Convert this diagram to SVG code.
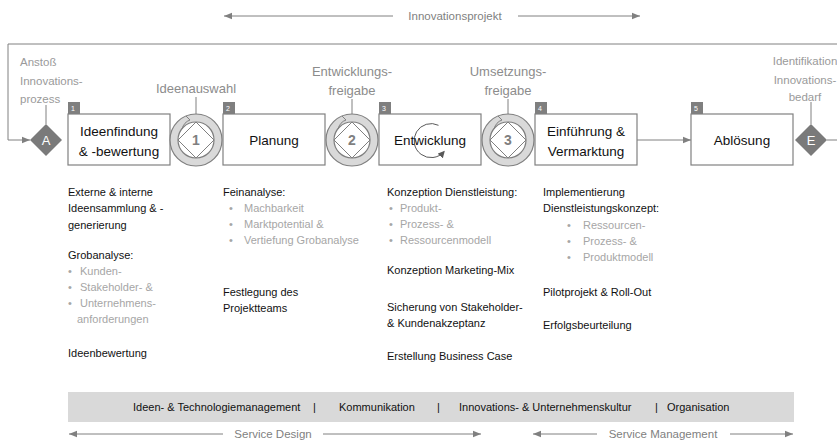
<svg xmlns="http://www.w3.org/2000/svg" width="837" height="440" viewBox="0 0 837 440">
<defs>
<marker id="ah" viewBox="0 0 10 10" refX="10" refY="5" markerWidth="8" markerHeight="8" markerUnits="userSpaceOnUse" orient="auto-start-reverse"><path d="M0,1 L10,5 L0,9 Z" fill="#808080"/></marker>
<marker id="ah2" viewBox="0 0 10 10" refX="8" refY="5" markerWidth="7" markerHeight="7" markerUnits="userSpaceOnUse" orient="auto"><path d="M0,0 L10,5 L0,10 Z" fill="#595959"/></marker>
<style>
text{font-family:"Liberation Sans",Arial,sans-serif}
.box{fill:#fff;stroke:#808080;stroke-width:1.2}
.tab{fill:#7f7f7f}
.tabt{fill:#fff;font-size:7px}
.bt{fill:#111;font-size:13.5px;text-anchor:middle}
.gl{fill:#8c8c8c;font-size:13px;text-anchor:middle}
.sl{fill:#9a9a9a;font-size:11.5px}
.ln{stroke:#808080;stroke-width:1;fill:none}
.ring{fill:#d9d9d9;stroke:#7f7f7f;stroke-width:1.2;fill-rule:evenodd}
.dia{fill:#fff;stroke:#7f7f7f;stroke-width:1}
.gn{fill:#7f7f7f;font-size:14px;font-weight:bold;text-anchor:middle}
.dd{fill:#7a7a7a}
.dl{fill:#fff;font-size:13px;text-anchor:middle}
.body{fill:#111;font-size:11px}
.bul{fill:#a6a6a6;font-size:11px}
.ar{fill:#7f7f7f;font-size:11.5px;text-anchor:middle}
.band{fill:#111;font-size:11px}
</style>
</defs>

<!-- top arrow -->
<g id="innovationsprojekt">
<line class="ln" x1="393" y1="16" x2="224" y2="16" marker-end="url(#ah)"/>
<line class="ln" x1="518" y1="16" x2="640" y2="16" marker-end="url(#ah)"/>
<text class="ar" x="455" y="20" font-size="12">Innovationsprojekt</text>
</g>

<g id="connectors">
<path class="ln" d="M837,44 L8,44 L8,140 L30,140" stroke="#9a9a9a" stroke-width="1.4" marker-end="url(#ah)"/>
<line class="ln" x1="637" y1="140" x2="691" y2="140" marker-end="url(#ah)"/>
<line class="ln" x1="827" y1="140" x2="837" y2="140"/>
<line class="ln" x1="46" y1="105" x2="46" y2="124"/>
<line class="ln" x1="811" y1="102" x2="811" y2="124"/>
<line class="ln" x1="196" y1="97" x2="196" y2="122"/>
<line class="ln" x1="352" y1="99" x2="352" y2="122"/>
<line class="ln" x1="508" y1="99" x2="508" y2="122"/>
</g>

<!-- start diamond A -->
<g id="start-A">
<text class="sl" x="20" y="66">Anstoß</text>
<text class="sl" x="20" y="85">Innovations-</text>
<text class="sl" x="20" y="103">prozess</text>
<path class="dd" d="M46,124 L62,140 L46,156 L30,140 Z"/>
<text class="dl" x="46" y="145">A</text>
</g>

<!-- end diamond E -->
<g id="end-E">
<text class="sl" x="805" y="65" text-anchor="middle">Identifikation</text>
<text class="sl" x="805" y="84" text-anchor="middle">Innovations-</text>
<text class="sl" x="805" y="101" text-anchor="middle">bedarf</text>
<path class="dd" d="M811,124 L827,140 L811,156 L795,140 Z"/>
<text class="dl" x="811" y="145">E</text>
</g>

<!-- Phase 1 -->
<g id="phase-1">
<rect class="tab" x="68" y="102" width="12" height="12"/>
<text class="tabt" x="71" y="111">1</text>
<rect class="box" x="68" y="114" width="102" height="51"/>
<text class="bt" x="119" y="136">Ideenfindung</text>
<text class="bt" x="119" y="156">&amp; -bewertung</text>
</g>

<!-- Gate 1 -->
<g id="gate-1">
<text class="gl" x="196" y="93">Ideenauswahl</text>
<path class="ring" d="M222,140 A26,26 0 1,1 170,140 A26,26 0 1,1 222,140 Z M214,140 A18,18 0 1,0 178,140 A18,18 0 1,0 214,140 Z"/>
<path class="ln" d="M182,129 Q184,122 190,120 L186,116" stroke="#7f7f7f"/>
<path class="dia" d="M196,122 L214,140 L196,158 L178,140 Z"/>
<text class="gn" x="196" y="145">1</text>
</g>

<!-- Phase 2 -->
<g id="phase-2">
<rect class="tab" x="223" y="102" width="12" height="12"/>
<text class="tabt" x="226" y="111">2</text>
<rect class="box" x="223" y="114" width="102" height="51"/>
<text class="bt" x="274" y="145">Planung</text>
</g>

<!-- Gate 2 -->
<g id="gate-2">
<text class="gl" x="352" y="76">Entwicklungs-</text>
<text class="gl" x="352" y="95">freigabe</text>
<path class="ring" d="M378,140 A26,26 0 1,1 326,140 A26,26 0 1,1 378,140 Z M370,140 A18,18 0 1,0 334,140 A18,18 0 1,0 370,140 Z"/>
<path class="ln" d="M338,129 Q340,122 346,120 L342,116" stroke="#7f7f7f"/>
<path class="dia" d="M352,122 L370,140 L352,158 L334,140 Z"/>
<text class="gn" x="352" y="145">2</text>
</g>

<!-- Phase 3 -->
<g id="phase-3">
<rect class="tab" x="379" y="102" width="12" height="12"/>
<text class="tabt" x="382" y="111">3</text>
<rect class="box" x="379" y="114" width="102" height="51"/>
<path d="M438.5,125.3 A17,17 0 1,0 443.9,151.8" fill="none" stroke="#595959" stroke-width="1" marker-end="url(#ah2)"/>
<text class="bt" x="430" y="145">Entwicklung</text>
</g>

<!-- Gate 3 -->
<g id="gate-3">
<text class="gl" x="508" y="76">Umsetzungs-</text>
<text class="gl" x="508" y="95">freigabe</text>
<path class="ring" d="M534,140 A26,26 0 1,1 482,140 A26,26 0 1,1 534,140 Z M526,140 A18,18 0 1,0 490,140 A18,18 0 1,0 526,140 Z"/>
<path class="ln" d="M494,129 Q496,122 502,120 L498,116" stroke="#7f7f7f"/>
<path class="dia" d="M508,122 L526,140 L508,158 L490,140 Z"/>
<text class="gn" x="508" y="145">3</text>
</g>

<!-- Phase 4 -->
<g id="phase-4">
<rect class="tab" x="535" y="102" width="12" height="12"/>
<text class="tabt" x="538" y="111">4</text>
<rect class="box" x="535" y="114" width="102" height="51"/>
<text class="bt" x="586" y="136">Einführung &amp;</text>
<text class="bt" x="586" y="156">Vermarktung</text>
</g>

<!-- Phase 5 -->
<g id="phase-5">
<rect class="tab" x="691" y="102" width="12" height="12"/>
<text class="tabt" x="694" y="111">5</text>
<rect class="box" x="691" y="114" width="102" height="51"/>
<text class="bt" x="742" y="145">Ablösung</text>
</g>

<!-- Column 1 -->
<g id="details-1">
<text class="body" x="68" y="196">Externe &amp; interne</text>
<text class="body" x="68" y="212">Ideensammlung &amp; -</text>
<text class="body" x="68" y="229">generierung</text>
<text class="body" x="68" y="259">Grobanalyse:</text>
<text class="bul" x="68" y="275">•</text><text class="bul" x="80" y="275">Kunden-</text>
<text class="bul" x="68" y="291">•</text><text class="bul" x="80" y="291">Stakeholder- &amp;</text>
<text class="bul" x="68" y="307">•</text><text class="bul" x="80" y="307">Unternehmens-</text>
<text class="bul" x="77" y="323">anforderungen</text>
<text class="body" x="68" y="357">Ideenbewertung</text>
</g>

<!-- Column 2 -->
<g id="details-2">
<text class="body" x="223" y="196">Feinanalyse:</text>
<text class="bul" x="229" y="212">•</text><text class="bul" x="244" y="212">Machbarkeit</text>
<text class="bul" x="229" y="228">•</text><text class="bul" x="244" y="228">Marktpotential &amp;</text>
<text class="bul" x="229" y="244">•</text><text class="bul" x="244" y="244">Vertiefung Grobanalyse</text>
<text class="body" x="223" y="296">Festlegung des</text>
<text class="body" x="223" y="312">Projektteams</text>
</g>

<!-- Column 3 -->
<g id="details-3">
<text class="body" x="387" y="196">Konzeption Dienstleistung:</text>
<text class="bul" x="389" y="212">•</text><text class="bul" x="400" y="212">Produkt-</text>
<text class="bul" x="389" y="228">•</text><text class="bul" x="400" y="228">Prozess- &amp;</text>
<text class="bul" x="389" y="244">•</text><text class="bul" x="400" y="244">Ressourcenmodell</text>
<text class="body" x="387" y="274">Konzeption Marketing-Mix</text>
<text class="body" x="387" y="311">Sicherung von Stakeholder-</text>
<text class="body" x="387" y="327">&amp; Kundenakzeptanz</text>
<text class="body" x="387" y="360">Erstellung Business Case</text>
</g>

<!-- Column 4 -->
<g id="details-4">
<text class="body" x="543" y="196">Implementierung</text>
<text class="body" x="543" y="212">Dienstleistungskonzept:</text>
<text class="bul" x="567" y="229">•</text><text class="bul" x="583" y="229">Ressourcen-</text>
<text class="bul" x="567" y="245">•</text><text class="bul" x="583" y="245">Prozess- &amp;</text>
<text class="bul" x="567" y="261">•</text><text class="bul" x="583" y="261">Produktmodell</text>
<text class="body" x="543" y="296">Pilotprojekt &amp; Roll-Out</text>
<text class="body" x="543" y="329">Erfolgsbeurteilung</text>
</g>

<!-- bottom band -->
<g id="band">
<rect x="68" y="392" width="726" height="30" fill="#d9d9d9"/>
<text class="band" x="133" y="411">Ideen- &amp; Technologiemanagement</text>
<text class="band" x="313" y="411">|</text>
<text class="band" x="339" y="411">Kommunikation</text>
<text class="band" x="437" y="411">|</text>
<text class="band" x="459" y="411">Innovations- &amp; Unternehmenskultur</text>
<text class="band" x="655" y="411">|</text>
<text class="band" x="667" y="411">Organisation</text>
</g>

<g id="service-design">
<line class="ln" x1="223" y1="434" x2="69" y2="434" marker-end="url(#ah)"/>
<line class="ln" x1="323" y1="434" x2="481" y2="434" marker-end="url(#ah)"/>
<text class="ar" x="273" y="438" font-size="11">Service Design</text>
</g>
<g id="service-management">
<line class="ln" x1="597" y1="434" x2="533" y2="434" marker-end="url(#ah)"/>
<line class="ln" x1="730" y1="434" x2="793" y2="434" marker-end="url(#ah)"/>
<text class="ar" x="663" y="438" font-size="11">Service Management</text>
</g>
</svg>
